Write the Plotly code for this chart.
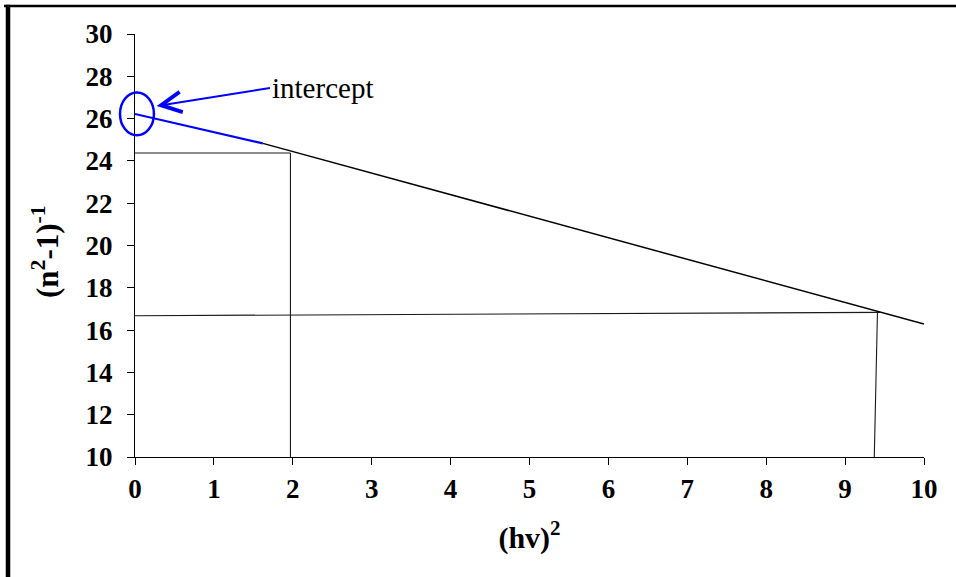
import plotly.graph_objects as go

# Linear fit of (n^2-1)^-1 against (hv)^2
fit_x = [1.62, 10.0]
fit_y = [24.83, 16.29]

# Extrapolated segment down to the intercept at (hv)^2 = 0
extrap_x = [0.0, 1.62]
extrap_y = [26.22, 24.83]

# Guide lines reading off two points of the fit
guide1_hx = [0.0, 1.97]
guide1_hy = [24.37, 24.37]
guide1_vx = [1.97, 1.97]
guide1_vy = [10.0, 24.37]

guide2_hx = [0.0, 9.44]
guide2_hy = [16.68, 16.84]
guide2_vx = [9.37, 9.41]
guide2_vy = [10.0, 16.84]

x_ticks = list(range(0, 11))
y_ticks = list(range(10, 31, 2))

X_RANGE = [0, 10]
Y_RANGE = [10, 30]

SERIF = "Liberation Serif"

# plot area in pixels
L, R, T, B = 135, 32, 34, 120
W, H = 956, 577
PW, PH = W - L - R, H - T - B


def to_paper_x(v):
    return (v - X_RANGE[0]) / (X_RANGE[1] - X_RANGE[0])


def to_paper_y(v):
    return (v - Y_RANGE[0]) / (Y_RANGE[1] - Y_RANGE[0])


def px_to_paper(px, py):
    return (px - L) / PW, (H - B - py) / PH


fig = go.Figure()

thin = dict(color="#1a1a1a", width=1.1)
for gx, gy in [(guide1_hx, guide1_hy), (guide1_vx, guide1_vy),
               (guide2_hx, guide2_hy), (guide2_vx, guide2_vy)]:
    fig.add_trace(go.Scatter(x=gx, y=gy, mode="lines", line=thin,
                             hoverinfo="skip", showlegend=False))

fig.add_trace(go.Scatter(x=fit_x, y=fit_y, mode="lines",
                         line=dict(color="black", width=1.5),
                         showlegend=False))
fig.add_trace(go.Scatter(x=extrap_x, y=extrap_y, mode="lines",
                         line=dict(color="#0000ff", width=2.2),
                         showlegend=False))

# Ellipse circling the intercept (paper coords so it is not clipped at x=0)
cx, cy = 0.025, extrap_y[0]
fig.add_shape(type="circle", xref="paper", yref="paper",
              x0=to_paper_x(cx - 0.215), x1=to_paper_x(cx + 0.215),
              y0=to_paper_y(cy - 1.01), y1=to_paper_y(cy + 1.01),
              line=dict(color="#0000ff", width=2.5))

# Label with arrow pointing at the intercept
fig.add_annotation(x=0.275, y=26.6, ax=1.71, ay=27.45,
                   xref="x", yref="y", axref="x", ayref="y",
                   text="intercept", xanchor="left", yanchor="middle",
                   showarrow=True, arrowhead=5, arrowsize=2.0,
                   arrowwidth=2, arrowcolor="#0000ff", standoff=0,
                   font=dict(family=SERIF, size=29, color="black"))

# Y axis title, rotated
tx, ty = px_to_paper(45, 252)
fig.add_annotation(x=tx, y=ty, xref="paper", yref="paper",
                   text="<b>(n<sup>2</sup>-1)<sup>-1</sup></b>", textangle=-90,
                   showarrow=False, xanchor="center", yanchor="middle",
                   font=dict(family=SERIF, size=31, color="black"))

# Frame lines along the top and left edges of the page
x0, y0 = px_to_paper(4, 6)
x1, _ = px_to_paper(960, 6)
fig.add_shape(type="line", xref="paper", yref="paper",
              x0=x0, x1=x1, y0=y0, y1=y0,
              line=dict(color="black", width=2.5))
lx, ly_top = px_to_paper(8, 4.8)
_, ly_bot = px_to_paper(8, 580)
fig.add_shape(type="line", xref="paper", yref="paper",
              x0=lx, x1=lx, y0=ly_bot, y1=ly_top,
              line=dict(color="black", width=4.5))

axis_common = dict(showgrid=False, zeroline=False, showline=True,
                   linecolor="black", linewidth=1.2, ticks="outside",
                   ticklen=7, tickwidth=1.2, tickcolor="black",
                   tickfont=dict(family=SERIF, size=27, color="black",
                                 weight="bold"))

fig.update_xaxes(range=X_RANGE, tickvals=x_ticks, ticklabelstandoff=0,
                 title=dict(text="(hv)<sup>2</sup>", standoff=24,
                            font=dict(family=SERIF, size=30, color="black",
                                      weight="bold")),
                 **axis_common)
fig.update_yaxes(range=Y_RANGE, tickvals=y_ticks, ticklabelstandoff=9,
                 **axis_common)

fig.update_layout(width=W, height=H,
                  margin=dict(l=L, r=R, t=T, b=B),
                  paper_bgcolor="white", plot_bgcolor="white",
                  showlegend=False)

fig.write_html("out.html")
